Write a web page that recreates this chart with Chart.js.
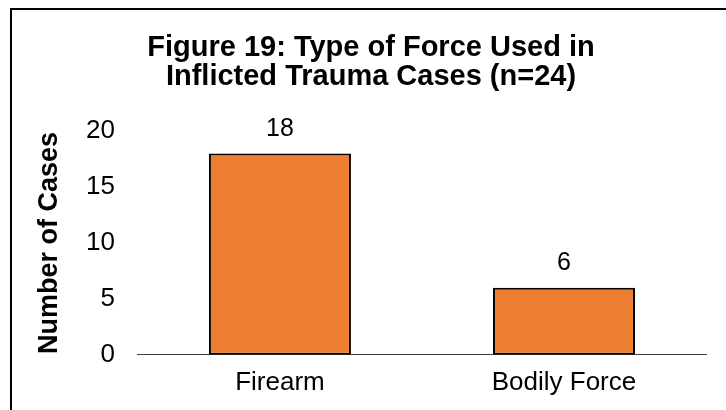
<!DOCTYPE html>
<html>
<head>
<meta charset="utf-8">
<script src="https://cdn.jsdelivr.net/npm/chart.js@4"></script>
<style>
  html, body { margin: 0; padding: 0; background: #fff; }
  #wrap { width: 726px; height: 410px; }
</style>
</head>
<body>
<div id="wrap"><canvas id="myBarChart" width="726" height="410"></canvas></div>
<script>
var categories = ['Firearm', 'Bodily Force'];
var caseCounts = [18, 6];
var yTicks = [0, 5, 10, 15, 20];

// frame (only top and left edges are visible in the picture)
var framePlugin = {
	id: 'frame',
	beforeDraw: function (chart) {
		var c = chart.ctx;
		c.save();
		c.fillStyle = '#fff';
		c.fillRect(0, 0, chart.width, chart.height);
		c.strokeStyle = '#000';
		c.lineWidth = 2;
		c.beginPath();
		c.moveTo(11, chart.height);
		c.lineTo(11, 9);
		c.lineTo(chart.width, 9);
		c.stroke();
		c.restore();
	},
};

// value labels above the bars
var valueLabels = {
	id: 'valueLabels',
	afterDatasetsDraw: function (chart) {
		var c = chart.ctx;
		var meta = chart.getDatasetMeta(0);
		c.save();
		c.font = '25px "Liberation Sans", Arial, sans-serif';
		c.fillStyle = '#000';
		c.textAlign = 'center';
		c.textBaseline = 'bottom';
		meta.data.forEach(function (bar, i) {
			c.fillText(String(caseCounts[i]), bar.x, bar.y - 12);
		});
		c.restore();
	},
};

var ctx = document.getElementById('myBarChart');
var myBarChart = new Chart(ctx, {
	type: 'bar',
	data: {
		labels: categories,
		datasets: [
			{
				label: 'Number of Cases',
				data: caseCounts,
				backgroundColor: '#ED7D31',
				borderColor: '#000',
				borderWidth: 2,
				borderSkipped: false,
				categoryPercentage: 1,
				barPercentage: 0.5,
			},
		],
	},
	options: {
		responsive: false,
		animation: false,
		layout: {
			padding: { left: 36, right: 20, top: 0, bottom: 0 },
		},
		plugins: {
			legend: { display: false },
			tooltip: { enabled: false },
			title: {
				display: true,
				text: ['Figure 19: Type of Force Used in', 'Inflicted Trauma Cases (n=24)'],
				color: '#000',
				font: { family: '"Liberation Sans", Arial, sans-serif', size: 29, weight: 'bold', lineHeight: 1.0 },
				padding: { top: 33, bottom: 40 },
			},
		},
		scales: {
			x: {
				grid: { display: false, drawTicks: false },
				border: { display: true, color: '#404040', width: 1 },
				ticks: {
					color: '#000',
					padding: 12,
					font: { family: '"Liberation Sans", Arial, sans-serif', size: 26 },
				},
			},
			y: {
				min: 0,
				max: 20,
				afterBuildTicks: function (axis) {
					axis.ticks = yTicks.map(function (v) { return { value: v }; });
				},
				grid: { display: false, drawTicks: false },
				border: { display: false },
				ticks: {
					color: '#000',
					padding: 23,
					font: { family: '"Liberation Sans", Arial, sans-serif', size: 26 },
				},
				title: {
					display: true,
					text: 'Number of Cases',
					color: '#000',
					padding: { top: 0, bottom: 0 },
					font: { family: '"Liberation Sans", Arial, sans-serif', size: 27, weight: 'bold', lineHeight: 1.0 },
				},
			},
		},
	},
	plugins: [framePlugin, valueLabels],
});
</script>
</body>
</html>
